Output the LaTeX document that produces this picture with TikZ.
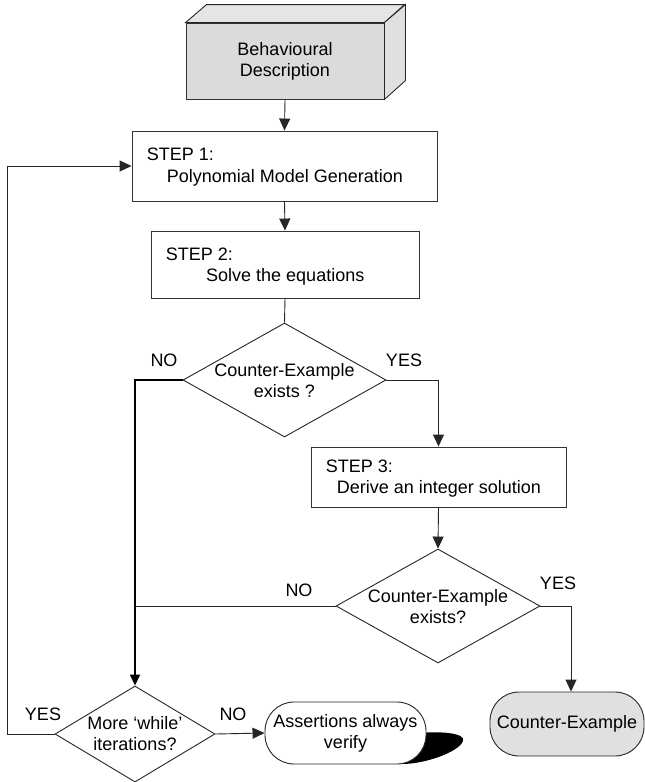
\documentclass[tikz,border=0pt]{standalone}
\usepackage{fontspec}
\setmainfont{Liberation Sans}
\usetikzlibrary{arrows.meta,shapes.geometric}
\begin{document}
\begin{tikzpicture}[x=1pt,y=-1pt,
  every node/.style={font=\fontsize{18}{21}\selectfont},
  line/.style={draw=black!85,line width=0.9pt},
  arr/.style={line,-{Triangle[length=12pt,width=11pt]}},
  thickarr/.style={draw=black,line width=1.6pt,-{Triangle[length=11pt,width=10pt]}},
  stepbox/.style={draw=black!80,line width=0.9pt,fill=white,rectangle,inner sep=0pt},
  dia/.style={draw=black!85,line width=0.9pt,diamond,inner sep=0pt,fill=white},
  term/.style={draw=black!85,line width=0.9pt,rectangle,inner sep=0pt,rounded corners=29pt},
  lbl/.style={inner sep=0pt,anchor=base west},
  yn/.style={inner sep=0pt}
]
\useasboundingbox (0,0) rectangle (645,782);

% Behavioural description (3D box)
\node[stepbox,fill=black!14,minimum width=198pt,minimum height=76pt,align=center] (beh) at (285,61) {Behavioural\\Description};
\path[line,fill=black!10] (beh.north west) -- ++(21,-18) -- ++(198,0) -- (beh.north east) -- cycle;
\path[line,fill=black!12] (beh.north east) -- ++(21,-18) -- ++(0,76) -- (beh.south east) -- cycle;

% Step boxes
\node[stepbox,minimum width=305pt,minimum height=70pt] (s1) at (284.5,166) {};
\node[lbl] (s1a) at (146.7,160) {STEP 1:};
\node[lbl] (s1b) at (166.7,182) {Polynomial Model Generation};

\node[stepbox,minimum width=268pt,minimum height=67pt] (s2) at (285,264.5) {};
\node[lbl] (s2a) at (165.7,260) {STEP 2:};
\node[lbl] (s2b) at (206,281) {Solve the equations};

\node[stepbox,minimum width=255pt,minimum height=60pt] (s3) at (438.5,477) {};
\node[lbl] (s3a) at (325.7,472) {STEP 3:};
\node[lbl] (s3b) at (336.7,493) {Derive an integer solution};

% Decisions
\node[dia,minimum width=203pt,minimum height=114pt] (d1) at (284.5,380) {};
\node[align=center,inner sep=0pt] (d1t) at (284.5,381) {Counter-Example\\exists ?};
\node[dia,minimum width=204pt,minimum height=114pt] (d2) at (438,606) {};
\node[align=center,inner sep=0pt] (d2t) at (438,607) {Counter-Example\\exists?};
\node[dia,minimum width=160pt,minimum height=96pt] (d3) at (135,734) {};
\node[align=center,inner sep=0pt] (d3t) at (135,734) {More ‘while’\\iterations?};

% Terminals
\fill[black] (405,752) -- (420,733) .. controls (440,731) and (466,733) .. (463,741) .. controls (459,752) and (425,764) .. (402,764) -- cycle;
\node[term,fill=white,minimum width=161pt,minimum height=62pt,align=center] (t1) at (345.5,733) {Assertions always\\verify};
\node[term,fill=black!12,minimum width=154pt,minimum height=64pt] (t2) at (567,724) {Counter-Example};

% Labels
\node[yn] (n1) at (164,360) {NO};
\node[yn] (y1) at (404,360) {YES};
\node[yn] (n2) at (299,590) {NO};
\node[yn] (y2) at (558,583) {YES};
\node[yn] (y3) at (43,714) {YES};
\node[yn] (n3) at (233,714) {NO};

% Connectors
\coordinate (j1) at (135,380);
\coordinate (j2) at (135,606);
\coordinate (lp) at (7,734);
\draw[arr] (beh.south) -- (s1.north);
\draw[arr] (s1.south) -- (s2.north);
\draw[line] (s2.south) -- (d1.north);
\draw[thickarr] (d1.west) -- (j1) -- (d3.north);
\draw[arr] (d1.east) -| (s3.north);
\draw[arr] (s3.south) -- (d2.north);
\draw[line] (d2.west) -- (j2);
\draw[arr] (d2.east) -| ([xshift=4pt]t2.north);
\draw[arr] (d3.east) -- (t1.west);
\draw[arr] (d3.west) -- (lp) |- (s1.west);
\end{tikzpicture}
\end{document}
